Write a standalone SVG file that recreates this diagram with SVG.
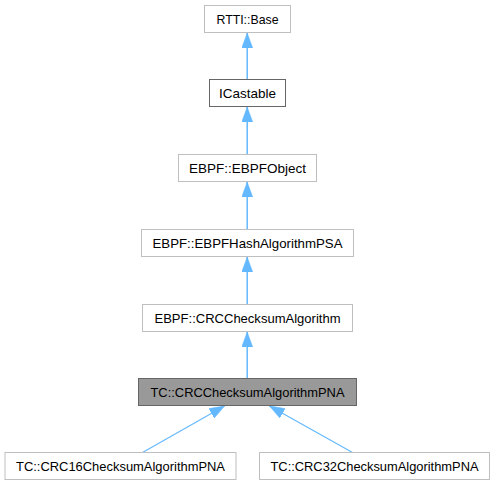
<svg xmlns="http://www.w3.org/2000/svg" width="496" height="485" viewBox="0 0 496 485">
  <style>
    .box { fill: #ffffff; stroke: #bfbfbf; stroke-width: 1; }
    .doc { fill: #ffffff; stroke: #666666; stroke-width: 1; }
    .cur { fill: #999999; stroke: #666666; stroke-width: 1; }
    .lbl { font-family: "Liberation Sans", Arial, Helvetica, sans-serif; font-size: 13.5px; fill: #000000; text-anchor: middle; }
    .edge { fill: none; stroke: #63b8ff; stroke-width: 1.1; }
    .vert { stroke-width: 1.5; }
  </style>
  <defs>
    <marker id="arr" viewBox="0 0 15 11" refX="15" refY="5.5" markerWidth="15" markerHeight="11" markerUnits="userSpaceOnUse" orient="auto">
      <path d="M0,0 L15,5.5 L0,11 Z" fill="#63b8ff" stroke="#63b8ff" stroke-width="0.5"/>
    </marker>
  </defs>
  <rect width="496" height="485" fill="#ffffff"/>
  <g id="edges">
    <path class="edge vert" d="M247.2,79.5 L247.2,33" marker-end="url(#arr)"/>
    <path class="edge vert" d="M247.2,154.5 L247.2,107" marker-end="url(#arr)"/>
    <path class="edge vert" d="M247.2,229.5 L247.2,182" marker-end="url(#arr)"/>
    <path class="edge vert" d="M247.2,304.5 L247.2,257" marker-end="url(#arr)"/>
    <path class="edge vert" d="M247.2,378.5 L247.2,332" marker-end="url(#arr)"/>
    <path class="edge" d="M142.5,452.5 L224.5,406" marker-end="url(#arr)"/>
    <path class="edge" d="M352.5,452.5 L269.5,406" marker-end="url(#arr)"/>
  </g>
  <g id="node-rtti-base">
    <rect class="box" x="204.5" y="5.5" width="86" height="27"/>
    <text class="lbl" x="247.5" y="23.5" textLength="62" lengthAdjust="spacingAndGlyphs">RTTI::Base</text>
  </g>
  <g id="node-icastable">
    <rect class="doc" x="209.5" y="79.5" width="76" height="27"/>
    <text class="lbl" x="247.5" y="97.5">ICastable</text>
  </g>
  <g id="node-ebpfobject">
    <rect class="box" x="178.5" y="154.5" width="138" height="27"/>
    <text class="lbl" x="247.5" y="172.5">EBPF::EBPFObject</text>
  </g>
  <g id="node-ebpfhash">
    <rect class="box" x="141.5" y="229.5" width="212" height="27"/>
    <text class="lbl" x="247.5" y="247.5" textLength="190" lengthAdjust="spacingAndGlyphs">EBPF::EBPFHashAlgorithmPSA</text>
  </g>
  <g id="node-crcchecksum">
    <rect class="box" x="142.5" y="304.5" width="210" height="27"/>
    <text class="lbl" x="247.5" y="322.5" textLength="186" lengthAdjust="spacingAndGlyphs">EBPF::CRCChecksumAlgorithm</text>
  </g>
  <g id="node-tc-crcpna">
    <rect class="cur" x="138.5" y="378.5" width="218" height="27"/>
    <text class="lbl" x="247.5" y="396.5" textLength="194" lengthAdjust="spacingAndGlyphs">TC::CRCChecksumAlgorithmPNA</text>
  </g>
  <g id="node-tc-crc16">
    <rect class="box" x="5" y="452.5" width="231" height="27"/>
    <text class="lbl" x="120.5" y="470.5" textLength="209" lengthAdjust="spacingAndGlyphs">TC::CRC16ChecksumAlgorithmPNA</text>
  </g>
  <g id="node-tc-crc32">
    <rect class="box" x="259.5" y="452.5" width="230" height="27"/>
    <text class="lbl" x="374.5" y="470.5" textLength="208" lengthAdjust="spacingAndGlyphs">TC::CRC32ChecksumAlgorithmPNA</text>
  </g>
</svg>
